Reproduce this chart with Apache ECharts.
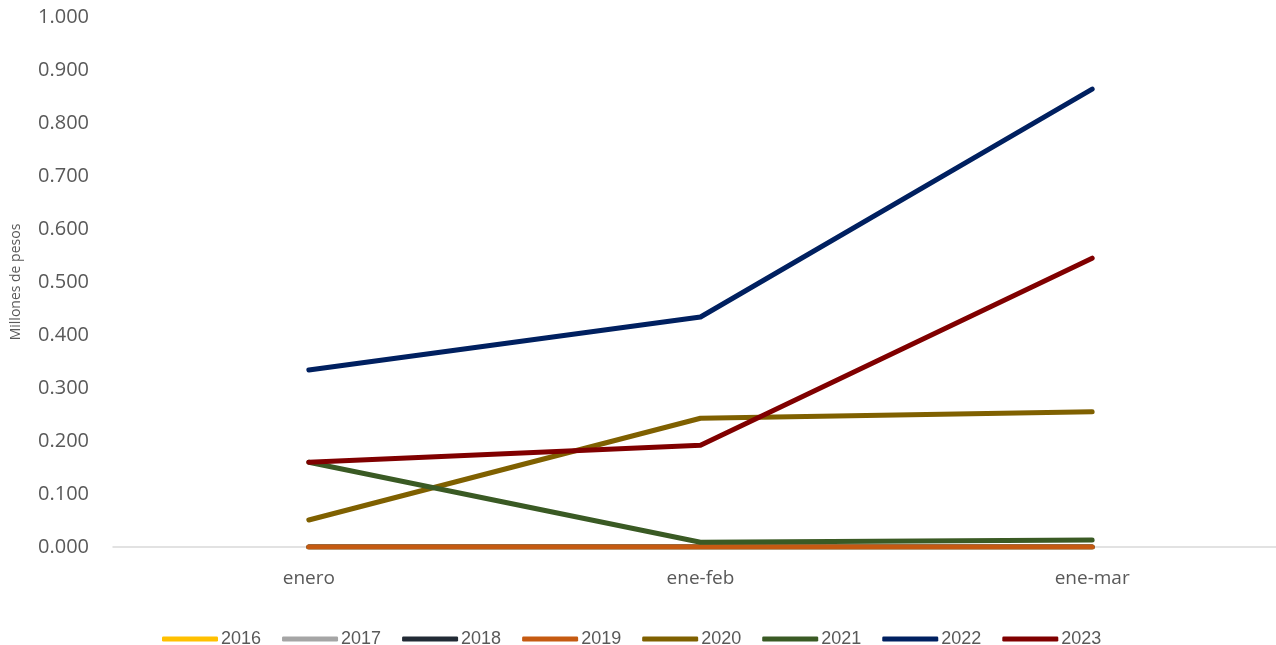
<!DOCTYPE html>
<html><head><meta charset="utf-8">
<script src="https://cdn.jsdelivr.net/npm/echarts@6/dist/echarts.min.js"></script>
<style>html,body{margin:0;padding:0;background:#fff;overflow:hidden}#c{width:1288px;height:645px}</style>
</head><body><div id="c"></div>
<script>
const categories = ['enero', 'ene-feb', 'ene-mar'];
const years = ['2016','2017','2018','2019','2020','2021','2022','2023'];
const s2016 = [0, 0, 0];
const s2017 = [0, 0, 0];
const s2018 = [0, 0, 0];
const s2019 = [0, 0, 0];
const s2020 = [0.051, 0.243, 0.255];
const s2021 = [0.160, 0.009, 0.013];
const s2022 = [0.334, 0.434, 0.864];
const s2023 = [0.160, 0.192, 0.545];
const yTicks = [0, 0.1, 0.2, 0.3, 0.4, 0.5, 0.6, 0.7, 0.8, 0.9, 1.0];
const colors = ['#FFC000','#A5A5A5','#222A35','#C55A11','#7F6000','#3A5A24','#002060','#800000'];
const values = [s2016,s2017,s2018,s2019,s2020,s2021,s2022,s2023];

const chart = echarts.init(document.getElementById('c'));
chart.setOption({
  animation: false,
  color: colors,
  grid: {left: 113, top: 17, right: 0, bottom: 98, containLabel: false},
  legend: {
    top: 625, left: 157,
    icon: 'roundRect', itemWidth: 56, itemHeight: 5, itemGap: 21,
    textStyle: {fontFamily: 'Liberation Sans Narrow, Liberation Sans', fontSize: 18, color: '#595959', padding: [0,0,0,-2]},
    data: years
  },
  xAxis: {
    type: 'category', data: categories, boundaryGap: true,
    axisLine: {lineStyle: {color: '#D9D9D9', width: 1.5}},
    axisTick: {show: false},
    axisLabel: {fontFamily: 'Open Sans', fontSize: 19, color: '#595959', margin: 22}
  },
  yAxis: {
    type: 'value', min: yTicks[0], max: yTicks[yTicks.length-1], interval: 0.1,
    name: 'Millones de pesos', nameLocation: 'middle', nameGap: 90, nameRotate: 90,
    nameTextStyle: {fontFamily: 'Open Sans', fontSize: 14, color: '#595959'},
    splitLine: {show: false}, axisLine: {show: false}, axisTick: {show: false},
    axisLabel: {fontFamily: 'Open Sans', fontSize: 20, color: '#595959', margin: 24,
      formatter: v => v.toFixed(3)}
  },
  series: years.map((y, i) => ({
    name: y, type: 'line', data: values[i], symbol: 'none',
    lineStyle: {width: 5, cap: 'round', join: 'round', color: colors[i]},
    itemStyle: {color: colors[i]}
  }))
});
</script></body></html>
